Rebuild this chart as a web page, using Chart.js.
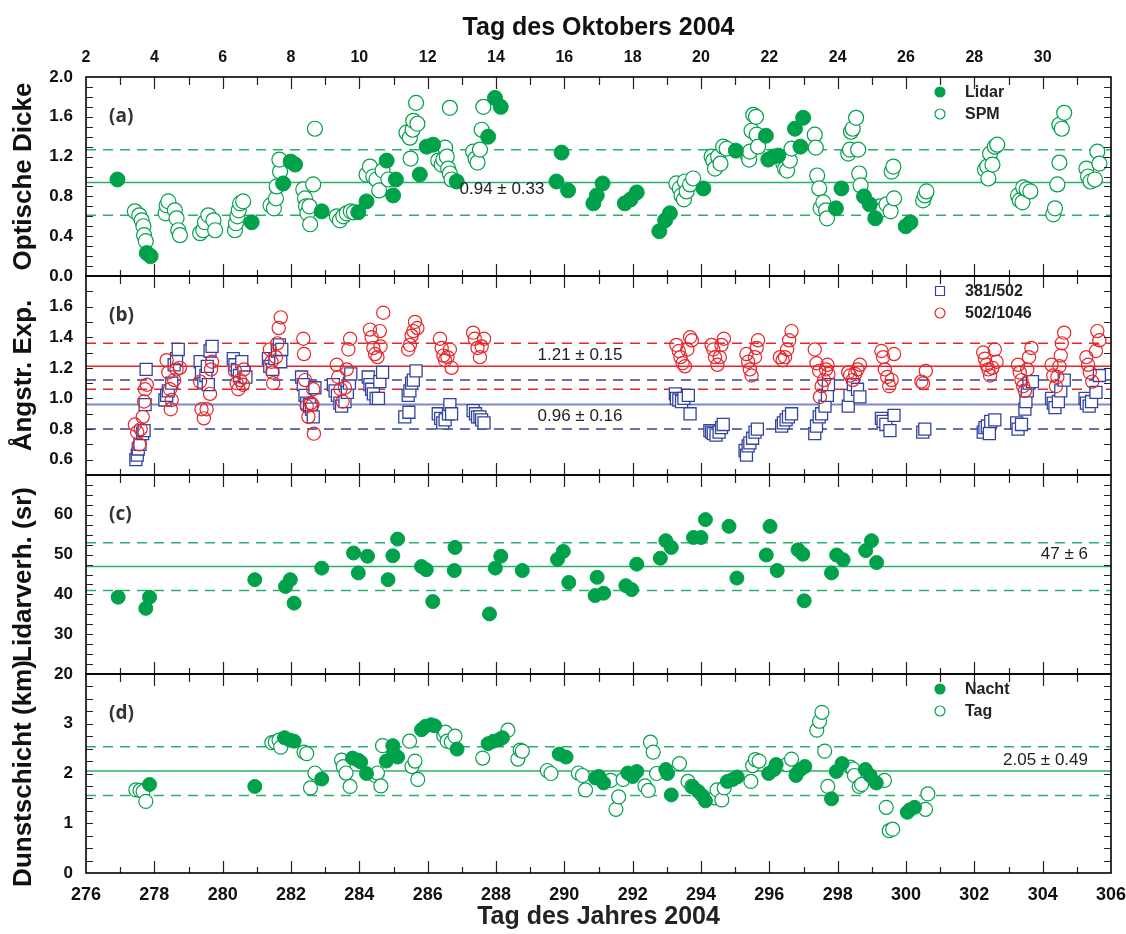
<!DOCTYPE html>
<html>
<head>
<meta charset="utf-8">
<script src="https://cdn.jsdelivr.net/npm/chart.js@4.4.1/dist/chart.umd.min.js"></script>
<style>
  html, body { margin: 0; padding: 0; background: #fff; }
</style>
</head>
<body>
<canvas id="grafico" width="1126" height="934"></canvas>
<script>
// ---- Daten: [Tag des Jahres, Wert] ----
const aodLidar = [[276.92,0.97],[277.78,0.23],[277.89,0.20],[280.85,0.54],[281.77,0.93],[281.99,1.15],[282.12,1.12],
  [282.90,0.65],[283.97,0.64],[284.21,0.75],[284.80,1.16],[284.99,0.81],[285.07,0.97],[285.77,1.02],[285.97,1.30],
  [286.16,1.32],[286.85,0.95],[287.77,1.40],[287.97,1.79],[288.14,1.70],[289.77,0.95],[289.92,1.24],[290.11,0.86],
  [290.85,0.73],[290.95,0.81],[291.12,0.93],[291.77,0.73],[291.94,0.77],[292.12,0.84],[292.78,0.45],[292.95,0.56],
  [293.09,0.63],[294.07,0.88],[295.02,1.26],[295.90,1.41],[295.97,1.17],[296.12,1.20],[296.26,1.21],[296.75,1.48],
  [296.91,1.30],[296.99,1.59],[297.95,0.68],[298.11,0.88],[298.77,0.80],[298.94,0.72],[299.10,0.58],[299.99,0.50],[300.13,0.54]];

const aodSpm = [[277.43,0.65],[277.56,0.61],[277.63,0.56],[277.68,0.50],[277.70,0.41],[277.75,0.35],
  [278.33,0.63],[278.36,0.71],[278.41,0.75],[278.60,0.66],[278.65,0.58],[278.70,0.46],[278.75,0.41],
  [279.34,0.43],[279.43,0.46],[279.48,0.54],[279.58,0.61],[279.73,0.56],[279.78,0.46],
  [280.36,0.46],[280.39,0.53],[280.43,0.60],[280.47,0.66],[280.51,0.73],[280.60,0.75],
  [281.40,0.71],[281.50,0.68],[281.56,0.78],[281.58,0.90],[281.68,1.05],[281.66,1.17],
  [282.36,0.87],[282.41,0.78],[282.44,0.70],[282.48,0.63],[282.56,0.52],[282.65,0.92],[282.54,0.70],[282.70,1.48],
  [283.34,0.60],[283.43,0.56],[283.53,0.60],[283.63,0.63],[283.75,0.65],[283.84,0.64],
  [284.21,1.02],[284.31,1.10],[284.41,1.00],[284.50,0.97],[284.58,0.86],[284.68,1.06],[284.85,0.97],
  [285.38,1.44],[285.48,1.39],[285.50,1.18],[285.56,1.47],[285.58,1.56],[285.66,1.74],[285.70,1.53],
  [286.31,1.16],[286.41,1.12],[286.46,1.17],[286.51,1.29],[286.56,1.20],[286.60,1.08],[286.65,1.03],[286.70,0.97],[286.65,1.69],
  [287.33,1.25],[287.40,1.18],[287.46,1.14],[287.53,1.27],[287.58,1.47],[287.63,1.70],
  [293.28,0.93],[293.38,0.88],[293.43,0.81],[293.50,0.77],[293.53,0.95],[293.58,0.85],[293.68,0.92],[293.77,0.98],
  [294.31,1.20],[294.36,1.16],[294.41,1.08],[294.50,1.20],[294.57,1.13],[294.65,1.30],[294.75,1.28],
  [295.38,1.20],[295.41,1.17],[295.43,1.25],[295.48,1.46],[295.53,1.62],[295.61,1.60],[295.63,1.42],[295.67,1.30],
  [296.41,1.13],[296.46,1.08],[296.52,1.06],[296.60,1.16],[296.65,1.28],
  [297.33,1.42],[297.36,1.29],[297.40,1.01],[297.46,0.88],[297.50,0.68],[297.58,0.74],[297.66,0.66],[297.69,0.58],
  [298.31,1.23],[298.36,1.27],[298.39,1.45],[298.44,1.48],[298.54,1.59],[298.60,1.27],[298.63,1.03],[298.67,0.91],
  [299.24,0.70],[299.33,0.67],[299.43,0.72],[299.55,0.65],[299.65,0.78],[299.58,1.05],[299.63,1.10],
  [300.50,0.76],[300.55,0.81],[300.60,0.85],
  [302.31,1.07],[302.38,1.10],[302.41,0.98],[302.46,1.23],[302.53,1.12],[302.60,1.30],[302.67,1.32],
  [303.28,0.81],[303.33,0.76],[303.41,0.74],[303.43,0.89],[303.53,0.87],[303.64,0.85],
  [304.31,0.62],[304.36,0.68],[304.43,0.92],[304.49,1.14],[304.49,1.52],[304.56,1.48],[304.63,1.64],
  [305.28,1.08],[305.33,1.00],[305.40,0.95],[305.53,0.97],[305.60,1.25],[305.66,1.13]];

const alpha381 = [[277.46,0.60],[277.50,0.63],[277.53,0.67],[277.58,0.70],[277.66,0.77],[277.70,0.79],[277.73,0.96],[277.76,1.19],
  [278.31,0.99],[278.36,1.02],[278.41,1.05],[278.51,1.10],[278.58,1.22],[278.65,1.26],[278.70,1.32],
  [279.34,1.24],[279.38,1.17],[279.45,1.10],[279.51,1.15],[279.55,1.21],[279.58,1.09],[279.63,1.31],[279.69,1.34],
  [280.31,1.26],[280.36,1.22],[280.43,1.19],[280.49,1.15],[280.56,1.24],[280.62,1.17],[280.68,1.14],
  [281.34,1.26],[281.38,1.21],[281.46,1.19],[281.53,1.26],[281.60,1.31],[281.66,1.35],[281.70,1.24],[281.73,1.32],
  [282.31,1.14],[282.36,1.09],[282.41,1.02],[282.46,0.97],[282.54,0.96],[282.60,0.93],[282.65,0.88],[282.70,1.07],
  [283.24,1.09],[283.29,1.05],[283.36,1.02],[283.43,0.97],[283.48,0.95],[283.58,0.98],[283.65,1.04],[283.71,1.10],[283.75,1.16],
  [284.26,1.14],[284.31,1.09],[284.36,1.06],[284.41,1.03],[284.49,1.00],[284.56,1.00],[284.60,1.11],[284.68,1.17],
  [285.33,0.88],[285.43,1.02],[285.45,0.91],[285.48,1.05],[285.53,1.10],[285.58,1.12],[285.66,1.18],
  [286.31,0.90],[286.38,0.87],[286.44,0.84],[286.51,0.86],[286.61,0.90],[286.65,0.96],[286.70,0.90],
  [287.33,0.92],[287.40,0.90],[287.46,0.88],[287.53,0.88],[287.58,0.86],[287.65,0.84],
  [293.25,1.03],[293.28,1.00],[293.35,0.99],[293.43,0.98],[293.50,1.00],[293.63,1.02],[293.68,0.90],
  [294.26,0.79],[294.31,0.78],[294.36,0.77],[294.44,0.76],[294.53,0.78],[294.60,0.81],[294.65,0.83],
  [295.29,0.66],[295.33,0.63],[295.38,0.69],[295.43,0.71],[295.51,0.74],[295.58,0.78],[295.65,0.80],
  [296.36,0.82],[296.41,0.84],[296.49,0.86],[296.56,0.88],[296.65,0.90],
  [297.33,0.77],[297.38,0.82],[297.46,0.88],[297.53,0.90],[297.63,0.95],[297.70,1.02],[297.73,1.09],
  [298.31,0.95],[298.36,1.02],[298.46,1.09],[298.58,1.06],[298.65,1.01],
  [299.28,0.87],[299.33,0.85],[299.41,0.83],[299.53,0.79],[299.65,0.89],
  [300.49,0.78],[300.55,0.80],
  [302.26,0.78],[302.31,0.81],[302.38,0.82],[302.44,0.77],[302.48,0.85],[302.60,0.86],
  [303.24,0.84],[303.28,0.80],[303.38,0.83],[303.48,0.93],[303.51,0.98],[303.55,1.05],[303.60,1.10],[303.70,1.11],
  [304.26,1.00],[304.31,0.97],[304.36,0.94],[304.46,0.98],[304.53,1.05],[304.63,1.12],
  [305.24,1.00],[305.28,0.97],[305.36,0.95],[305.43,0.98],[305.56,1.04],[305.66,1.15]];

const alpha502 = [[277.43,0.83],[277.50,0.78],[277.56,0.70],[277.60,0.80],[277.66,0.88],[277.70,0.98],[277.73,1.06],[277.78,1.09],
  [278.36,1.25],[278.41,1.17],[278.46,1.06],[278.48,0.93],[278.51,0.99],[278.58,1.12],[278.65,1.19],[278.75,1.20],
  [279.34,1.11],[279.38,0.93],[279.45,0.87],[279.53,0.93],[279.63,1.03],[279.66,1.19],[279.69,1.24],
  [280.36,1.18],[280.41,1.10],[280.46,1.06],[280.51,1.12],[280.59,1.09],[280.62,1.19],
  [281.38,1.32],[281.43,1.24],[281.46,1.17],[281.48,1.10],[281.56,1.27],[281.60,1.36],[281.64,1.46],[281.70,1.53],
  [282.36,1.39],[282.38,1.29],[282.41,1.12],[282.46,0.95],[282.51,0.88],[282.58,0.97],[282.63,0.96],[282.65,1.06],[282.67,0.77],
  [283.34,1.22],[283.38,1.14],[283.45,1.06],[283.51,0.98],[283.58,1.07],[283.63,1.19],[283.68,1.32],[283.73,1.39],
  [284.31,1.45],[284.36,1.40],[284.41,1.33],[284.46,1.29],[284.53,1.27],[284.60,1.44],[284.62,1.34],[284.70,1.56],
  [285.43,1.32],[285.48,1.35],[285.53,1.41],[285.58,1.44],[285.63,1.50],[285.70,1.46],
  [286.36,1.39],[286.41,1.33],[286.46,1.28],[286.51,1.25],[286.58,1.27],[286.65,1.32],[286.70,1.20],
  [287.33,1.43],[287.38,1.39],[287.46,1.33],[287.53,1.27],[287.58,1.34],[287.65,1.39],
  [293.28,1.35],[293.35,1.31],[293.40,1.27],[293.46,1.23],[293.53,1.21],[293.60,1.32],[293.68,1.40],[293.73,1.38],
  [294.31,1.35],[294.36,1.32],[294.41,1.27],[294.48,1.22],[294.55,1.27],[294.60,1.35],[294.67,1.39],
  [295.33,1.29],[295.38,1.24],[295.43,1.19],[295.48,1.15],[295.58,1.27],[295.63,1.33],[295.67,1.38],
  [296.31,1.27],[296.39,1.25],[296.46,1.27],[296.52,1.32],[296.58,1.38],[296.65,1.44],
  [297.33,1.32],[297.38,1.23],[297.46,1.18],[297.48,1.01],[297.53,1.08],[297.60,1.12],[297.66,1.19],[297.70,1.22],[297.73,1.16],
  [298.31,1.17],[298.36,1.15],[298.44,1.12],[298.51,1.16],[298.58,1.19],[298.65,1.22],
  [299.28,1.31],[299.33,1.27],[299.38,1.19],[299.45,1.14],[299.51,1.08],[299.58,1.12],[299.65,1.29],
  [300.45,1.11],[300.50,1.10],[300.58,1.18],
  [302.26,1.30],[302.31,1.26],[302.36,1.22],[302.41,1.19],[302.46,1.15],[302.53,1.20],[302.60,1.32],[302.65,1.24],
  [303.28,1.22],[303.33,1.17],[303.38,1.12],[303.43,1.08],[303.48,1.05],[303.55,1.19],[303.60,1.27],[303.67,1.33],
  [304.26,1.22],[304.31,1.15],[304.39,1.08],[304.43,1.14],[304.49,1.21],[304.53,1.28],[304.56,1.36],[304.63,1.43],
  [305.28,1.27],[305.33,1.22],[305.38,1.17],[305.45,1.11],[305.56,1.31],[305.60,1.44],[305.66,1.38]];

const lidarVerh = [[276.94,39.3],[277.75,36.5],[277.86,39.3],[280.94,43.7],[281.84,42.0],[281.98,43.7],[282.09,37.8],
  [282.90,46.6],[283.83,50.4],[283.97,45.4],[284.24,49.6],[284.84,43.7],[284.98,49.7],[285.12,53.9],[285.82,47.0],
  [285.96,46.2],[286.15,38.2],[286.78,46.0],[286.80,51.8],[287.81,35.1],[287.98,46.6],[288.14,49.6],[288.77,46.0],
  [289.80,48.8],[289.97,50.8],[290.13,43.0],[290.90,39.7],[290.96,44.3],[291.15,40.3],[291.80,42.2],[291.97,41.2],
  [292.12,47.6],[292.81,49.1],[292.97,53.5],[293.13,51.8],[293.78,54.3],[294.00,54.3],[294.13,58.8],[294.82,57.1],
  [295.05,44.1],[295.91,49.9],[296.02,57.1],[296.23,46.0],[296.84,51.2],[296.98,50.1],[297.02,38.4],[297.82,45.4],
  [297.97,49.9],[298.16,48.7],[298.82,51.0],[298.99,53.5],[299.14,48.0]];

const dunstNacht = [[277.86,1.78],[280.94,1.74],[281.81,2.72],[281.97,2.67],[282.09,2.65],[282.90,1.89],[283.80,2.31],
  [283.96,2.27],[284.04,2.23],[284.21,2.00],[284.79,2.25],[284.98,2.56],[285.00,2.41],[285.12,2.33],[285.82,2.88],
  [285.94,2.95],[286.10,2.98],[286.20,2.96],[286.86,2.49],[287.77,2.60],[287.93,2.65],[288.09,2.68],[288.19,2.72],
  [289.85,2.39],[290.05,2.33],[290.91,1.91],[291.01,1.94],[291.15,1.81],[291.86,2.01],[292.00,1.94],[292.12,2.04],
  [292.97,2.08],[293.02,2.00],[293.13,1.57],[293.76,1.73],[293.92,1.64],[294.05,1.55],[294.13,1.45],[294.77,1.84],
  [294.93,1.88],[295.06,1.93],[295.98,2.00],[296.14,2.08],[296.20,2.18],[296.78,1.96],[296.91,2.08],[297.04,2.14],
  [297.82,1.49],[297.96,2.04],[298.13,2.20],[298.81,2.08],[298.95,1.96],[299.13,1.81],[300.04,1.22],[300.11,1.27],[300.25,1.32]];

const dunstTag = [[277.46,1.67],[277.58,1.66],[277.67,1.64],[277.75,1.44],[281.44,2.62],[281.54,2.63],[281.65,2.67],[281.70,2.53],
  [282.38,2.43],[282.46,2.40],[282.57,1.71],[282.70,2.01],[283.48,2.27],[283.53,2.14],[283.61,2.01],[283.73,1.74],
  [284.46,1.96],[284.53,2.01],[284.63,1.75],[284.68,2.56],[285.47,2.65],[285.54,2.14],[285.63,2.25],[285.71,1.88],
  [286.47,2.76],[286.52,2.83],[286.57,2.65],[286.69,2.63],[286.80,2.75],[287.61,2.31],[288.35,2.87],[288.64,2.29],
  [288.71,2.47],[288.77,2.45],[289.50,2.06],[289.61,2.00],[290.41,2.01],[290.53,1.96],[290.62,1.67],[291.36,1.86],
  [291.51,1.28],[291.59,1.53],[291.72,1.88],[292.36,1.75],[292.46,1.66],[292.52,2.63],[292.60,2.43],[292.70,2.00],
  [293.37,2.20],[293.62,1.84],[293.73,1.74],[294.40,1.51],[294.47,1.67],[294.61,1.47],[294.68,1.71],[295.46,1.84],
  [295.51,2.16],[295.59,2.28],[295.70,2.25],[296.51,2.18],[296.65,2.29],[297.39,2.87],[297.47,3.05],[297.54,3.23],
  [297.62,2.45],[297.71,1.74],[298.37,2.13],[298.45,2.09],[298.49,1.96],[298.63,1.74],[298.70,1.78],[299.37,1.86],
  [299.42,1.32],[299.51,0.85],[299.61,0.88],[300.57,1.28],[300.64,1.59]];

// Mittelwert und Standardabweichung je Größe
const mittelAod = [0.94, 0.33];
const mittel502 = [1.21, 0.15];
const mittel381 = [0.96, 0.16];
const mittelVerh = [47, 6];
const mittelDunst = [2.05, 0.49];

// Achsenbeschriftungen
const tageUnten = [276, 278, 280, 282, 284, 286, 288, 290, 292, 294, 296, 298, 300, 302, 304, 306];
const oktoberTage = [2, 4, 6, 8, 10, 12, 14, 16, 18, 20, 22, 24, 26, 28, 30];
const ticksA = [0, 0.4, 0.8, 1.2, 1.6, 2.0];
const ticksB = [0.6, 0.8, 1.0, 1.2, 1.4, 1.6];
const ticksC = [20, 30, 40, 50, 60];
const ticksD = [0, 1, 2, 3];

const FONT = '"Liberation Sans", Arial, sans-serif';
const GRUEN = '#00a14b';
const GRUEN_LINIE = '#2bb06a';
const BLAU = '#33439e';
const ROT = '#e8262a';

const panels = [
  {id: 'yA', min: 0, max: 2.0, step: 0.1, label: '(a)'},
  {id: 'yB', min: 0.5, max: 1.8, step: 0.1, label: '(b)'},
  {id: 'yC', min: 20, max: 70, step: 2.5, label: '(c)'},
  {id: 'yD', min: 0, max: 4, step: 0.25, label: '(d)'}
];

function punkte(liste) { return liste.map(p => ({x: p[0], y: p[1]})); }
function waagrecht(wert) { return [{x: 276, y: wert}, {x: 306, y: wert}]; }

function linie(wert, achse, farbe, gestrichelt, breite) {
  return {
    data: waagrecht(wert), yAxisID: achse, showLine: true, pointRadius: 0,
    borderColor: farbe, borderWidth: breite || 1.5, borderDash: gestrichelt ? [10, 7] : [],
    order: 20
  };
}
function mitStreuung(m, achse, farbe, farbeMitte, breite) {
  return [
    linie(m[0], achse, farbeMitte || farbe, false, breite),
    linie(m[0] - m[1], achse, farbe, true),
    linie(m[0] + m[1], achse, farbe, true)
  ];
}

function yAchse(p, ticks, nachkomma, titel, gewicht) {
  return {
    type: 'linear', position: 'left', stack: 'panels', stackWeight: 1, weight: gewicht,
    min: p.min, max: p.max,
    grid: {display: false, drawTicks: false},
    border: {display: false},
    title: {display: true, text: titel, color: '#111', padding: {top: 8, bottom: 0},
            font: {family: FONT, size: 26, weight: 'bold'}},
    ticks: {color: '#111', padding: 13, autoSkip: false,
            font: {family: FONT, size: 17, weight: 'bold'},
            callback: v => v.toFixed(nachkomma)},
    afterBuildTicks: s => { s.ticks = ticks.map(v => ({value: v})); },
    afterFit: s => { s.width = 86; s.paddingTop = 0; s.paddingBottom = 0; }
  };
}

// Rahmen, innenliegende Striche, Legenden und Beschriftungen
const rahmen = {
  id: 'rahmen',
  afterDatasetsDraw(chart) {
    const {ctx, chartArea, scales} = chart;
    const xs = scales.x;
    const l = chartArea.left, r = chartArea.right;
    ctx.save();
    panels.forEach(p => {
      const s = scales[p.id];
      // y-Striche links und rechts
      ctx.strokeStyle = '#222';
      ctx.lineWidth = 1.2;
      const n = Math.round((p.max - p.min) / p.step);
      for (let i = 1; i < n; i++) {
        const y = Math.round(s.getPixelForValue(p.min + i * p.step)) + 0.5;
        ctx.beginPath();
        ctx.moveTo(l, y); ctx.lineTo(l + 7, y);
        ctx.moveTo(r, y); ctx.lineTo(r - 7, y);
        ctx.stroke();
      }
      // x-Striche oben und unten
      for (let d = 277; d <= 305; d++) {
        const x = Math.round(xs.getPixelForValue(d)) + 0.5;
        const gross = d % 2 === 0;
        ctx.beginPath();
        ctx.moveTo(x, s.top); ctx.lineTo(x, s.top + (gross ? 12 : 8));
        ctx.moveTo(x, s.bottom); ctx.lineTo(x, s.bottom - (gross ? 12 : 6));
        ctx.stroke();
      }
      ctx.strokeStyle = '#000';
      ctx.lineWidth = 1.6;
      ctx.strokeRect(l, s.top, r - l, s.bottom - s.top);

      ctx.fillStyle = '#333';
      ctx.font = 'bold 19px "Open Sans", sans-serif';
      ctx.textAlign = 'left';
      ctx.textBaseline = 'middle';
      ctx.fillText(p.label, l + 23, s.top + 40);
    });
    ctx.restore();
  },
  afterDraw(chart) {
    const {ctx, chartArea, scales} = chart;
    const l = chartArea.left;
    ctx.save();
    ctx.textBaseline = 'middle';

    // Zahlenangaben an den Mittelwertlinien
    ctx.fillStyle = '#222';
    ctx.font = '17px ' + FONT;
    ctx.textAlign = 'center';
    ctx.fillText(mittelAod[0].toFixed(2) + ' \u00b1 ' + mittelAod[1].toFixed(2), l + 416, scales.yA.getPixelForValue(mittelAod[0]) + 7);
    ctx.fillText(mittel502[0].toFixed(2) + ' \u00b1 ' + mittel502[1].toFixed(2), l + 494, scales.yB.getPixelForValue(mittel502[0]) - 11);
    ctx.fillText(mittel381[0].toFixed(2) + ' \u00b1 ' + mittel381[1].toFixed(2), l + 494, scales.yB.getPixelForValue(mittel381[0]) + 12);
    ctx.textAlign = 'right';
    ctx.fillText(mittelVerh[0] + ' \u00b1 ' + mittelVerh[1], l + 1002, scales.yC.getPixelForValue(mittelVerh[0]) - 12);
    ctx.fillText(mittelDunst[0].toFixed(2) + ' \u00b1 ' + mittelDunst[1].toFixed(2), l + 1002, scales.yD.getPixelForValue(mittelDunst[0]) - 11);

    // Legenden
    const legende = (s, eintraege) => {
      eintraege.forEach((e, i) => {
        const y = s.top + 15 + i * 22;
        const x = l + 854;
        ctx.beginPath();
        ctx.lineWidth = 1.2;
        ctx.strokeStyle = e.farbe;
        if (e.form === 'rect') {
          ctx.fillStyle = '#fff';
          ctx.rect(x - 4.5, y - 4.5, 9, 9);
        } else {
          ctx.arc(x, y, 5, 0, Math.PI * 2);
          ctx.fillStyle = e.voll ? e.farbe : '#fff';
        }
        ctx.fill();
        ctx.stroke();
        ctx.fillStyle = '#222';
        ctx.font = 'bold 16px ' + FONT;
        ctx.textAlign = 'left';
        ctx.fillText(e.text, l + 879, y + 1);
      });
    };
    legende(scales.yA, [{text: 'Lidar', farbe: GRUEN, voll: true}, {text: 'SPM', farbe: GRUEN}]);
    legende(scales.yB, [{text: '381/502', farbe: BLAU, form: 'rect'}, {text: '502/1046', farbe: ROT}]);
    legende(scales.yD, [{text: 'Nacht', farbe: GRUEN, voll: true}, {text: 'Tag', farbe: GRUEN}]);
    ctx.restore();
  }
};

const datasets = [
  {data: punkte(aodSpm), yAxisID: 'yA', pointRadius: 7.5, backgroundColor: '#fff', borderColor: GRUEN, borderWidth: 1.2, order: 3},
  {data: punkte(aodLidar), yAxisID: 'yA', pointRadius: 7.5, backgroundColor: GRUEN, borderColor: GRUEN, borderWidth: 1, order: 2},
  ...mitStreuung(mittelAod, 'yA', GRUEN_LINIE),

  {data: punkte(alpha381), yAxisID: 'yB', pointStyle: 'rect', pointRadius: 8.5, backgroundColor: '#fff', borderColor: BLAU, borderWidth: 1.3, order: 5},
  {data: punkte(alpha502), yAxisID: 'yB', pointRadius: 6.6, backgroundColor: 'rgba(255,255,255,0)', borderColor: ROT, borderWidth: 1.2, order: 4},
  ...mitStreuung(mittel502, 'yB', ROT),
  ...mitStreuung(mittel381, 'yB', BLAU, '#7d88c8', 2),

  {data: punkte(lidarVerh), yAxisID: 'yC', pointRadius: 7, backgroundColor: GRUEN, borderColor: GRUEN, borderWidth: 1, order: 2},
  ...mitStreuung(mittelVerh, 'yC', GRUEN_LINIE),

  {data: punkte(dunstTag), yAxisID: 'yD', pointRadius: 7, backgroundColor: '#fff', borderColor: GRUEN, borderWidth: 1.2, order: 3},
  {data: punkte(dunstNacht), yAxisID: 'yD', pointRadius: 7, backgroundColor: GRUEN, borderColor: GRUEN, borderWidth: 1, order: 2},
  ...mitStreuung(mittelDunst, 'yD', GRUEN_LINIE)
];

new Chart(document.getElementById('grafico'), {
  type: 'scatter',
  data: {datasets},
  options: {
    responsive: false,
    animation: false,
    devicePixelRatio: 1,
    layout: {padding: {left: 0, right: 15, top: 0, bottom: 0}},
    plugins: {legend: {display: false}, tooltip: {enabled: false}},
    scales: {
      x: {
        type: 'linear', position: 'bottom', min: 276, max: 306,
        grid: {display: false, drawTicks: false}, border: {display: false},
        ticks: {color: '#111', padding: 11, autoSkip: false, maxRotation: 0,
                font: {family: FONT, size: 18, weight: 'bold'}, callback: v => String(v)},
        afterBuildTicks: s => { s.ticks = tageUnten.map(v => ({value: v})); },
        title: {display: true, text: 'Tag des Jahres 2004', color: '#222', padding: {top: 0, bottom: 2},
                font: {family: FONT, size: 25, weight: 'bold'}},
        afterFit: s => { s.height = 61; s.paddingLeft = 0; s.paddingRight = 0; }
      },
      x2: {
        type: 'linear', position: 'top', min: 276, max: 306,
        grid: {display: false, drawTicks: false}, border: {display: false},
        ticks: {color: '#111', padding: 10, autoSkip: false, maxRotation: 0,
                font: {family: FONT, size: 16, weight: 'bold'}, callback: v => String(v - 274)},
        afterBuildTicks: s => { s.ticks = oktoberTage.map(d => ({value: d + 274})); },
        title: {display: true, text: 'Tag des Oktobers 2004', color: '#111', padding: {top: 13, bottom: 0},
                font: {family: FONT, size: 25, weight: 'bold'}},
        afterFit: s => { s.height = 77; s.paddingLeft = 0; s.paddingRight = 0; }
      },
      yA: yAchse(panels[0], ticksA, 1, 'Optische Dicke', 4),
      yB: yAchse(panels[1], ticksB, 1, '\u00c5ngstr. Exp.', 3),
      yC: yAchse(panels[2], ticksC, 0, 'Lidarverh. (sr)', 2),
      yD: yAchse(panels[3], ticksD, 0, 'Dunstschicht (km)', 1)
    }
  },
  plugins: [rahmen]
});
</script>
</body>
</html>
